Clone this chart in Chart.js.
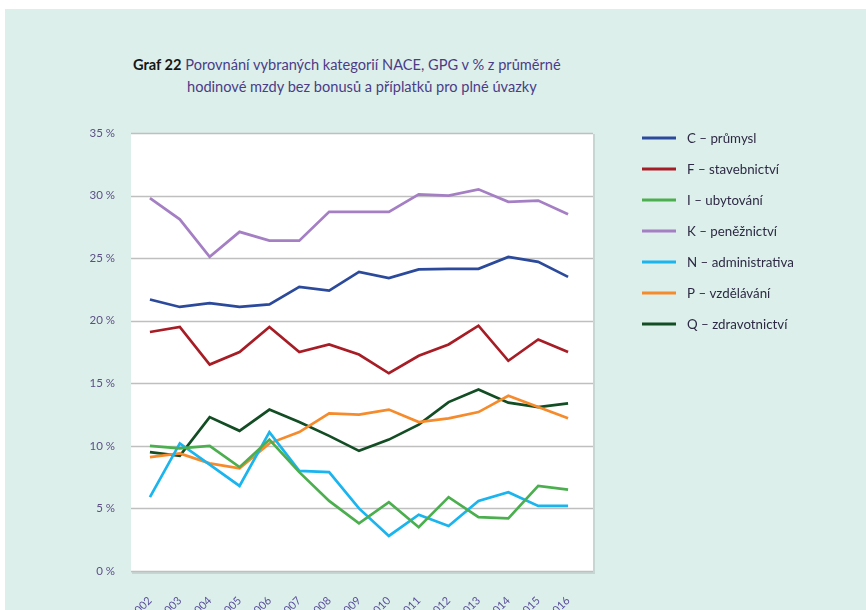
<!DOCTYPE html>
<html>
<head>
<meta charset="utf-8">
<script src="https://cdn.jsdelivr.net/npm/chart.js@4.4.0/dist/chart.umd.min.js"></script>
<style>
  html, body { margin: 0; padding: 0; width: 866px; height: 610px; overflow: hidden; background: #ffffff; }
  #bg { position: absolute; left: 5px; top: 9px; right: 0; bottom: 0; background: #ddefeb; }
  #wrap { position: absolute; left: 0; top: 0; width: 866px; height: 640px; }
  .title { position: absolute; font-family: Lato, sans-serif; font-size: 14.6px; color: #4b3c86; white-space: nowrap; line-height: 18px; }
  .title b { color: #161616; font-weight: 700; }
</style>
</head>
<body>
<div id="bg"></div>
<div class="title" style="left:133px; top:56px;"><b>Graf 22</b> Porovnání vybraných kategorií NACE, GPG v % z průměrné</div>
<div class="title" style="left:187px; top:78px;">hodinové mzdy bez bonusů a příplatků pro plné úvazky</div>
<div id="wrap"><canvas id="c" width="866" height="640"></canvas></div>
<script>
const years = ['2002','2003','2004','2005','2006','2007','2008','2009','2010','2011','2012','2013','2014','2015','2016'];
const yTicks = [0, 5, 10, 15, 20, 25, 30, 35];

const seriesNames = ['C – průmysl','F – stavebnictví','I – ubytování','K – peněžnictví','N – administrativa','P – vzdělávání','Q – zdravotnictví'];
const seriesColors = ['#2c4a9b','#a71d26','#4caf4f','#a57fc4','#1ab4ee','#f68b2c','#134d24'];

const C_prumysl   = [21.7, 21.1, 21.4, 21.1, 21.3, 22.7, 22.4, 23.9, 23.4, 24.1, 24.15, 24.15, 25.1, 24.7, 23.5];
const F_stavebn   = [19.1, 19.5, 16.5, 17.5, 19.5, 17.5, 18.1, 17.3, 15.8, 17.2, 18.1, 19.6, 16.8, 18.5, 17.5];
const I_ubytovani = [10.0, 9.8, 10.0, 8.3, 10.5, 7.9, 5.6, 3.8, 5.5, 3.5, 5.9, 4.3, 4.2, 6.8, 6.5];
const K_penezn    = [29.8, 28.1, 25.1, 27.1, 26.4, 26.4, 28.7, 28.7, 28.7, 30.1, 30.0, 30.5, 29.5, 29.6, 28.5];
const N_admin     = [5.9, 10.2, 8.5, 6.8, 11.1, 8.0, 7.9, 5.0, 2.8, 4.5, 3.6, 5.6, 6.3, 5.2, 5.2];
const P_vzdel     = [9.1, 9.4, 8.6, 8.2, 10.2, 11.1, 12.6, 12.5, 12.9, 11.9, 12.2, 12.7, 14.0, 13.1, 12.2];
const Q_zdrav     = [9.5, 9.2, 12.3, 11.2, 12.9, 11.9, 10.8, 9.6, 10.5, 11.7, 13.5, 14.5, 13.45, 13.1, 13.4];

const seriesValues = [C_prumysl, F_stavebn, I_ubytovani, K_penezn, N_admin, P_vzdel, Q_zdrav];

const FONT = 'Lato, "Open Sans", sans-serif';

const panelPlugin = {
  id: 'panel',
  beforeDraw(chart) {
    const ctx = chart.ctx;
    const y = chart.scales.y;
    const top = y.getPixelForValue(35);
    const bot = y.getPixelForValue(0);
    const L = 131, R = 593;
    ctx.save();
    ctx.fillStyle = 'rgba(0,0,0,0.10)';
    ctx.fillRect(L + 1, top + 1, R - L + 1, bot - top + 2);
    ctx.fillStyle = '#ffffff';
    ctx.fillRect(L, top, R - L, bot - top);
    ctx.strokeStyle = '#bfbfbf';
    ctx.lineWidth = 1.6;
    yTicks.forEach(v => {
      const py = Math.round(y.getPixelForValue(v)) + 0.5;
      ctx.beginPath();
      ctx.moveTo(L, py);
      ctx.lineTo(R, py);
      ctx.stroke();
    });
    ctx.restore();
  }
};

const legendPlugin = {
  id: 'sideLegend',
  afterDraw(chart) {
    const ctx = chart.ctx;
    ctx.save();
    ctx.font = '13.3px ' + FONT;
    ctx.textBaseline = 'middle';
    chart.data.datasets.forEach((ds, i) => {
      const yy = 138 + i * 31;
      ctx.strokeStyle = ds.borderColor;
      ctx.lineWidth = 3;
      ctx.beginPath();
      ctx.moveTo(642, yy);
      ctx.lineTo(676, yy);
      ctx.stroke();
      ctx.fillStyle = '#2d2944';
      ctx.fillText(ds.label, 687, yy + 1);
    });
    ctx.restore();
  }
};

new Chart(document.getElementById('c'), {
  type: 'line',
  data: {
    labels: years,
    datasets: seriesValues.map((vals, i) => ({
      label: seriesNames[i],
      data: vals,
      borderColor: seriesColors[i],
      backgroundColor: seriesColors[i],
      borderWidth: 2.7,
      pointRadius: 0,
      tension: 0,
      fill: false
    }))
  },
  options: {
    responsive: false,
    animation: false,
    devicePixelRatio: 1,
    layout: { padding: { top: 133, right: 283, bottom: 0, left: 0 } },
    plugins: { legend: { display: false }, tooltip: { enabled: false } },
    scales: {
      x: {
        offset: true,
        grid: { display: false, drawTicks: false },
        border: { display: false },
        ticks: { minRotation: 45, maxRotation: 45, padding: 23, color: '#5a4f9c', font: { family: FONT, size: 11 } },
        afterFit(s) { s.height = 69; }
      },
      y: {
        min: 0, max: 35,
        grid: { display: false, drawTicks: false },
        border: { display: false },
        ticks: { stepSize: 5, padding: 20, color: '#5b4f86', font: { family: FONT, size: 11.5 }, callback: v => v + ' %' },
        afterFit(s) { s.width = 135; }
      }
    }
  },
  plugins: [panelPlugin, legendPlugin]
});
</script>
</body>
</html>
